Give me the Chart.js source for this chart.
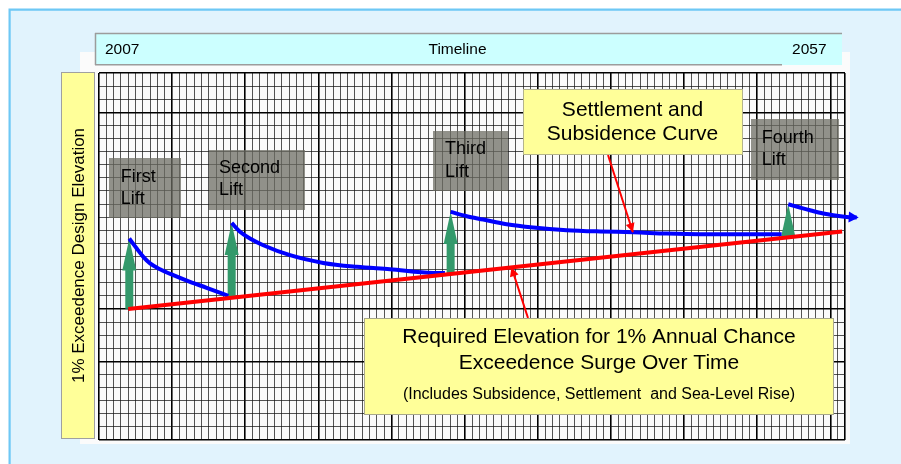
<!DOCTYPE html>
<html>
<head>
<meta charset="utf-8">
<script src="https://cdn.jsdelivr.net/npm/chart.js@4.4.1/dist/chart.umd.min.js"></script>
<style>
  html, body { margin: 0; padding: 0; background: #ffffff; }
  canvas { display: block; }
</style>
</head>
<body>
<canvas id="chart" width="901" height="464"></canvas>
<script>
const FONT = '"Liberation Sans", Arial, Helvetica, sans-serif';

// Timeline bar and axis text
const timelineStart = '2007';
const timelineTitle = 'Timeline';
const timelineEnd = '2057';
const yAxisTitle = '1% Exceedence Design Elevation';

// Required elevation for the 1% annual chance surge (red line)
const requiredYears = [2009.0, 2057.8];
const requiredElev = [10.0, 15.9];

// Levee crest after each lift, settling over time (blue curves)
const lift1Years = [2009.07, 2009.58, 2010.03, 2010.49, 2011.17, 2012.08, 2013.22, 2014.36, 2015.84];
const lift1Elev  = [15.37, 14.61, 13.97, 13.47, 13.03, 12.58, 12.07, 11.61, 11.00];

const lift2Years = [2016.07, 2016.64, 2017.32, 2018.23, 2020.06, 2022.33, 2024.62, 2026.89, 2029.85, 2030.65];
const lift2Elev  = [16.56, 15.88, 15.37, 14.86, 14.10, 13.51, 13.21, 13.03, 12.75, 12.75];

const lift3Years = [2031.04, 2032.14, 2033.27, 2034.87, 2036.69, 2038.97, 2041.25, 2043.53, 2045.81, 2048.09, 2053.67];
const lift3Elev  = [17.40, 17.07, 16.82, 16.46, 16.21, 16.01, 15.91, 15.85, 15.75, 15.70, 15.70];

const lift4Years = [2054.12, 2054.92, 2055.61, 2056.52, 2057.20, 2058.12, 2058.80];
const lift4Elev  = [17.99, 17.74, 17.53, 17.28, 17.15, 17.02, 16.97];

// Lift labels
const liftLabels = [['First', 'Lift'], ['Second', 'Lift'], ['Third', 'Lift'], ['Fourth', 'Lift']];

// Callout text
const settlementText = ['Settlement and', 'Subsidence Curve'];
const requiredText = ['Required Elevation for 1% Annual Chance', 'Exceedence Surge Over Time'];
const requiredNote = '(Includes Subsidence, Settlement  and Sea-Level Rise)';

// Where the callout pointers touch the curves
const settlementPointerYear = 2043.5;
const requiredPointerYear = 2035.2;

// Graph paper: heavier rules
const yMajorRules = [0, 6, 10, 25, 28];

const toPoints = (xs, ys) => xs.map((x, i) => ({ x: x, y: ys[i] }));

function interp(xs, ys, x) {
  for (let i = 0; i < xs.length - 1; i++) {
    if (x >= xs[i] && x <= xs[i + 1]) {
      const t = (x - xs[i]) / (xs[i + 1] - xs[i]);
      return ys[i] + t * (ys[i + 1] - ys[i]);
    }
  }
  return x < xs[0] ? ys[0] : ys[ys.length - 1];
}

function arrowHead(ctx, fx, fy, tx, ty, len, half) {
  const a = Math.atan2(ty - fy, tx - fx);
  const c = Math.cos(a), s = Math.sin(a);
  ctx.beginPath();
  ctx.moveTo(tx, ty);
  ctx.lineTo(tx - len * c + half * s, ty - len * s - half * c);
  ctx.lineTo(tx - len * c - half * s, ty - len * s + half * c);
  ctx.closePath();
  ctx.fill();
}

function box(ctx, x, y, w, h, fill, stroke) {
  ctx.fillStyle = fill;
  ctx.fillRect(x, y, w, h);
  if (stroke) {
    ctx.strokeStyle = stroke;
    ctx.lineWidth = 1;
    ctx.strokeRect(x + 0.5, y + 0.5, w - 1, h - 1);
  }
}

function text(ctx, str, x, y, size, align) {
  ctx.font = size + 'px ' + FONT;
  ctx.textAlign = align || 'left';
  ctx.textBaseline = 'alphabetic';
  ctx.fillStyle = '#000000';
  ctx.fillText(str, x, y);
}

// Panel, timeline bar and vertical axis caption
const backdrop = {
  id: 'backdrop',
  beforeDraw(chart) {
    const ctx = chart.ctx;
    ctx.save();
    ctx.fillStyle = '#ffffff';
    ctx.fillRect(0, 0, chart.width, chart.height);
    ctx.fillStyle = '#e1f3fd';
    ctx.fillRect(9, 9, chart.width, chart.height);
    ctx.strokeStyle = '#6ec8f5';
    ctx.lineWidth = 2.2;
    ctx.beginPath();
    ctx.moveTo(9.6, chart.height + 5);
    ctx.lineTo(9.6, 9.6);
    ctx.lineTo(chart.width + 5, 9.6);
    ctx.stroke();

    // paper sheet behind the grid
    ctx.fillStyle = '#fbfbfb';
    ctx.fillRect(80, 52, 770, 392);

    // timeline bar
    ctx.fillStyle = '#ccffff';
    ctx.fillRect(95, 33, 747, 32);
    ctx.strokeStyle = '#9c9c9c';
    ctx.lineWidth = 1.5;
    ctx.beginPath();
    ctx.moveTo(95, 33.5); ctx.lineTo(842, 33.5);
    ctx.moveTo(95.5, 33); ctx.lineTo(95.5, 65);
    ctx.moveTo(95, 64.8); ctx.lineTo(782, 64.8);
    ctx.stroke();
    text(ctx, timelineStart, 105, 53.5, 15.5, 'left');
    text(ctx, timelineTitle, 457.5, 53.5, 15.5, 'center');
    text(ctx, timelineEnd, 826.5, 54.3, 15.5, 'right');

    // vertical caption
    box(ctx, 61, 72, 34, 367, '#ffff99', '#a0a0a0');
    ctx.translate(84, 255.5);
    ctx.rotate(-Math.PI / 2);
    text(ctx, yAxisTitle, 0, 0, 17, 'center');
    ctx.restore();
  }
};

// Lift tags, lift arrows and callouts
const overlays = {
  id: 'overlays',
  beforeDatasetsDraw(chart) {
    const ctx = chart.ctx;
    const xs = chart.scales.x, ys = chart.scales.y;
    ctx.save();
    const tags = [
      [109, 158, 72, 60, 120.7, 182.3, 203.5],
      [209, 150, 96, 60, 219, 173.3, 195],
      [433, 131, 75, 60, 445, 154.3, 176.7],
      [751, 119, 88, 61, 761.7, 143.3, 165]
    ];
    tags.forEach((t, i) => {
      ctx.fillStyle = 'rgba(108,108,98,0.74)';
      ctx.fillRect(t[0], t[1], t[2], t[3]);
      text(ctx, liftLabels[i][0], t[4], t[5], 18, 'left');
      text(ctx, liftLabels[i][1], t[4], t[6], 18, 'left');
    });

    // green lift arrows from the required line up to the new crest
    const lifts = [[lift1Years, lift1Elev], [lift2Years, lift2Elev], [lift3Years, lift3Elev], [lift4Years, lift4Elev]];
    ctx.fillStyle = '#33996b';
    lifts.forEach(([lx, ly]) => {
      const yr = lx[0];
      const px = xs.getPixelForValue(yr);
      const top = ys.getPixelForValue(ly[0]);
      const base = ys.getPixelForValue(interp(requiredYears, requiredElev, yr));
      const headLen = Math.min(32, base - top);
      ctx.beginPath();
      ctx.moveTo(px, top);
      ctx.lineTo(px + 7, top + headLen);
      ctx.lineTo(px - 7, top + headLen);
      ctx.closePath();
      ctx.fill();
      if (base - top > headLen) {
        ctx.fillRect(px - 4, top + headLen - 0.5, 8, base - top - headLen + 0.5);
      }
    });
    ctx.restore();
  },
  afterDatasetsDraw(chart) {
    const ctx = chart.ctx;
    const xs = chart.scales.x, ys = chart.scales.y;
    ctx.save();

    // arrow tip on the last settlement curve
    const n = lift4Years.length;
    ctx.fillStyle = '#0000ff';
    arrowHead(ctx,
      xs.getPixelForValue(lift4Years[n - 2]), ys.getPixelForValue(lift4Elev[n - 2]),
      xs.getPixelForValue(lift4Years[n - 1]) + 2, ys.getPixelForValue(lift4Elev[n - 1]), 10, 5.5);

    // pointer to the settlement curve
    ctx.strokeStyle = '#ff0000';
    ctx.fillStyle = '#ff0000';
    ctx.lineWidth = 2;
    let tx = xs.getPixelForValue(settlementPointerYear);
    let ty = ys.getPixelForValue(interp(lift3Years, lift3Elev, settlementPointerYear));
    ctx.beginPath(); ctx.moveTo(608, 155); ctx.lineTo(tx, ty); ctx.stroke();
    arrowHead(ctx, 608, 155, tx, ty, 9, 4.5);

    // pointer to the required elevation line
    tx = xs.getPixelForValue(requiredPointerYear);
    ty = ys.getPixelForValue(interp(requiredYears, requiredElev, requiredPointerYear));
    ctx.beginPath(); ctx.moveTo(528, 318); ctx.lineTo(tx, ty); ctx.stroke();
    arrowHead(ctx, 528, 318, tx, ty, 9, 4.5);

    // callouts
    box(ctx, 523, 89, 220, 66, '#ffff99', '#b4b48c');
    text(ctx, settlementText[0], 632.5, 116, 21, 'center');
    text(ctx, settlementText[1], 632.5, 140, 21, 'center');

    box(ctx, 364, 318, 470, 97, '#ffff99', '#a8a88c');
    text(ctx, requiredText[0], 599, 343.3, 21, 'center');
    text(ctx, requiredText[1], 599, 369, 21, 'center');
    text(ctx, requiredNote, 599, 399, 16, 'center');
    ctx.restore();
  }
};

const blueLine = (xs, ys, extra) => Object.assign({
  data: toPoints(xs, ys),
  borderColor: '#0000ff',
  borderWidth: 4,
  cubicInterpolationMode: 'monotone'
}, extra || {});

const isXMajor = v => Math.abs(((v - 2007) % 5 + 5) % 5) < 1e-6 || Math.abs(v - 2058) < 1e-6;
const isYMajor = v => yMajorRules.some(m => Math.abs(m - v) < 1e-6);

new Chart(document.getElementById('chart'), {
  type: 'line',
  data: {
    datasets: [
      {
        data: toPoints(requiredYears, requiredElev),
        borderColor: '#ff0000',
        borderWidth: 4
      },
      blueLine(lift1Years, lift1Elev),
      blueLine(lift2Years, lift2Elev),
      blueLine(lift3Years, lift3Elev),
      blueLine(lift4Years, lift4Elev, { clip: false })
    ]
  },
  options: {
    responsive: false,
    animation: false,
    devicePixelRatio: 1,
    layout: { padding: { left: 99, right: 56, top: 73, bottom: 24 } },
    plugins: { legend: { display: false }, tooltip: { enabled: false } },
    elements: { point: { radius: 0, hoverRadius: 0 }, line: { borderCapStyle: 'butt', borderJoinStyle: 'round' } },
    scales: {
      x: {
        type: 'linear',
        afterDataLimits(scale) { scale.min = 2007; scale.max = 2058; },
        ticks: { display: false, stepSize: 0.5, autoSkip: false },
        grid: {
          drawTicks: false,
          color: ctx => isXMajor(ctx.tick.value) ? '#000000' : 'rgba(20,20,20,0.72)',
          lineWidth: ctx => isXMajor(ctx.tick.value) ? 1.6 : 1
        },
        border: { display: false }
      },
      y: {
        type: 'linear',
        min: 0,
        max: 28,
        ticks: { display: false, stepSize: 1, autoSkip: false },
        grid: {
          drawTicks: false,
          color: ctx => isYMajor(ctx.tick.value) ? '#000000' : 'rgba(20,20,20,0.72)',
          lineWidth: ctx => isYMajor(ctx.tick.value) ? 1.6 : 1
        },
        border: { display: false }
      }
    }
  },
  plugins: [backdrop, overlays]
});
</script>
</body>
</html>
